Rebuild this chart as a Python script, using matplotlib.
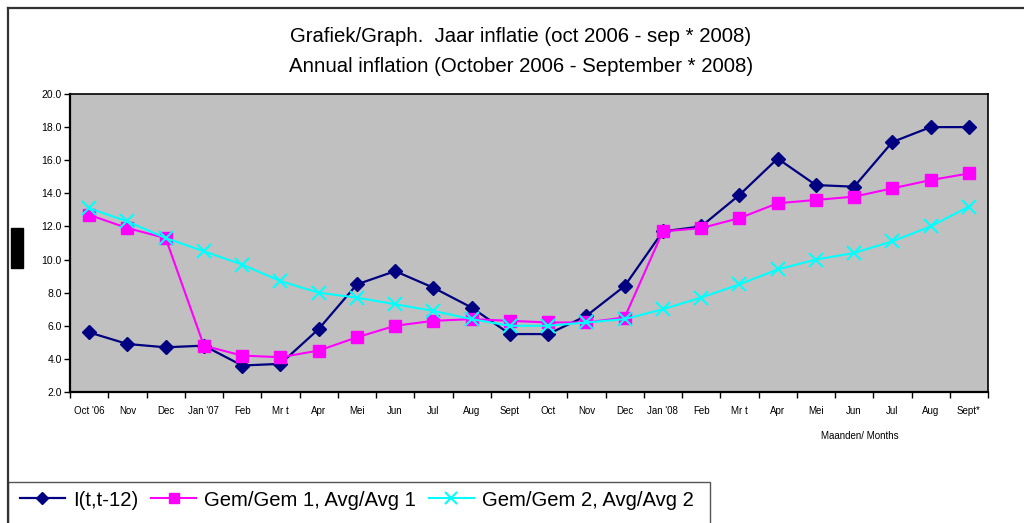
import matplotlib
matplotlib.use("Agg")
import matplotlib.pyplot as plt
from matplotlib.lines import Line2D
from matplotlib.patches import Rectangle

plt.rcParams['font.family'] = ['Liberation Sans', 'DejaVu Sans']

MONTHS = ["Oct '06", "Nov", "Dec", "Jan '07", "Feb", "Mr t", "Apr", "Mei", "Jun",
          "Jul", "Aug", "Sept", "Oct", "Nov", "Dec", "Jan '08", "Feb", "Mr t",
          "Apr", "Mei", "Jun", "Jul", "Aug", "Sept*"]

# I(t,t-12)
INFL = [5.6, 4.9, 4.7, 4.8, 3.6, 3.7, 5.8, 8.5, 9.3, 8.3, 7.1, 5.5,
        5.5, 6.6, 8.4, 11.7, 12.0, 13.9, 16.1, 14.5, 14.4, 17.1, 18.0, 18.0]
# Gem/Gem 1
AVG1 = [12.7, 11.9, 11.3, 4.8, 4.2, 4.1, 4.5, 5.3, 6.0, 6.3, 6.4, 6.3,
        6.2, 6.2, 6.5, 11.7, 11.9, 12.5, 13.4, 13.6, 13.8, 14.3, 14.8, 15.2]
# Gem/Gem 2
AVG2 = [13.1, 12.3, 11.3, 10.5, 9.7, 8.7, 8.0, 7.7, 7.3, 6.9, 6.4, 6.0,
        6.0, 6.2, 6.4, 7.0, 7.7, 8.5, 9.4, 10.0, 10.4, 11.1, 12.0, 13.2]

W, H = 1024, 523
fig = plt.figure(figsize=(W / 100, H / 100), dpi=100)
ax = fig.add_axes([70 / W, (H - 392) / H, 918 / W, 298 / H])
ax.set_facecolor('#C0C0C0')

x = list(range(len(MONTHS)))
l1, = ax.plot(x, INFL, color='#000080', lw=1.6, marker='D', ms=7.5, label='I(t,t-12)')
l2, = ax.plot(x, AVG1, color='#FF00FF', lw=1.5, marker='s', ms=9, label='Gem/Gem 1, Avg/Avg 1')
l3, = ax.plot(x, AVG2, color='#00FFFF', lw=1.5, marker='x', ms=10, mew=1.5,
              label='Gem/Gem 2, Avg/Avg 2')

ax.set_xlim(-0.5, len(MONTHS) - 0.5)
ax.set_ylim(2, 20)
ax.set_yticks([2 + 2 * i for i in range(10)])
ax.set_yticklabels(['%.1f' % (2 + 2 * i) for i in range(10)], fontsize=7.5)
ax.set_xticks([i - 0.5 for i in range(len(MONTHS) + 1)])
ax.set_xticklabels([])
ax.set_xticks(x, minor=True)
ax.set_xticklabels(MONTHS, minor=True, fontsize=7)
ax.tick_params(axis='x', which='major', direction='out', length=4, width=1)
ax.tick_params(axis='x', which='minor', length=0, pad=10)
ax.tick_params(axis='y', direction='out', length=4, width=1, pad=2)
for s in ['left', 'bottom']:
    ax.spines[s].set_linewidth(1.6)
for s in ['top', 'right']:
    ax.spines[s].set_linewidth(1.2)

fig.text(521 / W, 1 - 37 / H, 'Grafiek/Graph.  Jaar inflatie (oct 2006 - sep * 2008)',
         ha='center', va='center', fontsize=14.7)
fig.text(521 / W, 1 - 66 / H, 'Annual inflation (October 2006 - September * 2008)',
         ha='center', va='center', fontsize=14.7)
fig.text(860 / W, 1 - 436 / H, 'Maanden/ Months', ha='center', va='center', fontsize=7)

# outer chart frame
fig.add_artist(Line2D([8 / W, 8 / W], [0, 1 - 8 / H], color='#333333', lw=1.6))
fig.add_artist(Line2D([8 / W, 1], [1 - 8 / H, 1 - 8 / H], color='#333333', lw=1.6))
# black marker box at left
fig.add_artist(Rectangle((11 / W, 1 - 268 / H), 12 / W, 40 / H, color='black'))
# legend frame
fig.add_artist(Rectangle((8 / W, -5 / H), 702 / W, (H - 482 + 5) / H, fill=False,
                         edgecolor='#555555', lw=1.0))

fig.legend(handles=[l1, l2, l3], loc='center left', bbox_to_anchor=(12 / W, 1 - 500 / H),
           ncol=3, frameon=False, fontsize=14.6, handlelength=2.2, handletextpad=0.4,
           columnspacing=0.65, borderaxespad=0, markerscale=0.8)

fig.savefig('out.png', dpi=100)
